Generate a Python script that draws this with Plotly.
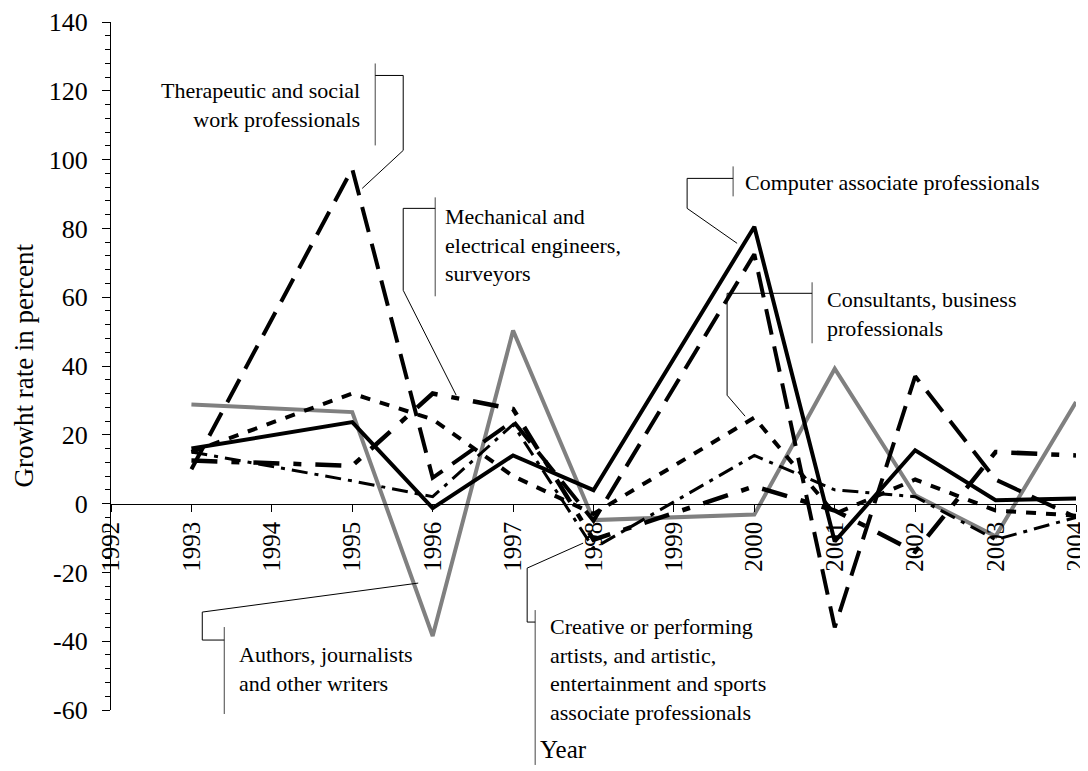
import plotly.graph_objects as go

# ---------------- data ----------------
years = [1993, 1995, 1996, 1997, 1998, 2000, 2001, 2002, 2003, 2004]
computer = [16.0, 23.7, -1.3, 14.0, 3.9, 80.5, -11.0, 15.5, 1.0, 1.5]
therapeutic = [10.0, 97.3, 7.5, 24.0, -5.0, 72.5, -36.0, 37.0, 7.0, -4.0]
mechanical = [12.5, 11.0, 32.0, 27.5, -10.5, 5.0, -2.0, -14.0, 15.0, 14.0]
consultants = [15.0, 32.0, 24.5, 8.0, -3.0, 25.0, -3.0, 7.0, -2.0, -3.5]
creative = [15.0, 6.6, 2.0, 23.0, -13.0, 14.0, 4.0, 2.0, -10.5, -4.0]
authors = [28.8, 26.6, -38.5, 50.3, -4.8, -3.2, 39.2, 2.4, -9.5, 29.5]

tick_years = list(range(1992, 2005))
y_ticks = [-60, -40, -20, 0, 20, 40, 60, 80, 100, 120, 140]

FONT = "Liberation Serif, Times New Roman, serif"

# ---------------- layout geometry ----------------
# the page body has an 8px margin, so the figure sits at (8, 8) in the window
OFF = 8
W, H = 1080, 763
PLOT_L, PLOT_R, PLOT_T, PLOT_B = 110.7, 1076.0, 21.5, 710.0   # window pixels
ML = PLOT_L - OFF
MR = W - (PLOT_R - OFF)
MT = PLOT_T - OFF
MB = H - (PLOT_B - OFF)
PW, PH = PLOT_R - PLOT_L, PLOT_B - PLOT_T


def px(x):
    return (x - PLOT_L) / PW


def py(y):
    return (PLOT_B - y) / PH


fig = go.Figure()

series = [
    ("Authors, journalists and other writers", authors, dict(color="#808080", width=4, dash="solid")),
    ("Creative or performing artists", creative, dict(color="black", width=3, dash="16px,7px,4px,7px")),
    ("Consultants, business professionals", consultants, dict(color="black", width=4, dash="10px,10px")),
    ("Mechanical and electrical engineers, surveyors", mechanical, dict(color="black", width=4.5, dash="26px,14px,8px,14px")),
    ("Therapeutic and social work professionals", therapeutic, dict(color="black", width=4, dash="26px,12px")),
    ("Computer associate professionals", computer, dict(color="black", width=4, dash="solid")),
]
for name, vals, line in series:
    fig.add_trace(go.Scatter(x=years, y=vals, mode="lines", name=name, line=line,
                             showlegend=False, hoverinfo="skip"))

# ---------------- callouts (window pixel layout -> paper) ----------------
callouts = [
    ("Therapeutic and social<br>work professionals", 362, 105, "right", "right",
     (375, 63, 145), [(375, 75), (403, 75), (403, 150), (362, 188)]),
    ("Mechanical and<br>electrical engineers,<br>surveyors", 443, 245, "left", "left",
     (435, 197, 296), [(435, 208), (403, 208), (403, 290), (456, 395)]),
    ("Computer associate professionals", 743, 182, "left", "left",
     (733, 166, 196), [(733, 178), (687, 178), (687, 208), (737, 243)]),
    ("Consultants, business<br>professionals", 825, 314, "left", "left",
     (812, 282, 343), [(812, 293), (727, 293), (727, 395), (745, 416)]),
    ("Authors, journalists<br>and other writers", 237, 669, "left", "left",
     (224, 627, 714), [(224, 640), (202, 640), (202, 612), (418, 583)]),
    ("Creative or performing<br>artists, and artistic,<br>entertainment and sports<br>associate professionals",
     548, 669, "left", "left",
     (535, 610, 765), [(535, 622), (527, 622), (527, 568), (583, 543)]),
]

shapes = []
annotations = []
for text, tx, ty, xa, al, bar, pts in callouts:
    annotations.append(dict(text=text, x=px(tx), y=py(ty), xref="paper", yref="paper",
                            xanchor=xa, yanchor="middle", align=al, showarrow=False,
                            font=dict(family=FONT, size=22, color="black")))
    bx, by0, by1 = bar
    shapes.append(dict(type="line", xref="paper", yref="paper",
                       x0=px(bx), x1=px(bx), y0=py(by0), y1=py(by1),
                       line=dict(color="#444444", width=1)))
    path = "M " + " L ".join(f"{px(a):.5f},{py(b):.5f}" for a, b in pts)
    shapes.append(dict(type="path", xref="paper", yref="paper", path=path,
                       line=dict(color="black", width=1)))

annotations.append(dict(text="Growht rate in percent", x=px(24), y=py(365), xref="paper", yref="paper",
                        textangle=-90, showarrow=False, xanchor="center", yanchor="middle",
                        font=dict(family=FONT, size=27, color="black")))
annotations.append(dict(text="Year", x=px(563), y=py(750), xref="paper", yref="paper",
                        showarrow=False, xanchor="center", yanchor="middle",
                        font=dict(family=FONT, size=25, color="black")))

fig.update_layout(
    width=W, height=H,
    margin=dict(l=ML, r=MR, t=MT, b=MB, pad=0),
    paper_bgcolor="white", plot_bgcolor="white",
    showlegend=False,
    shapes=shapes,
    annotations=annotations,
    xaxis=dict(range=[1992, 2004], anchor="free", position=60 / 200,
               tickmode="array", tickvals=tick_years, ticktext=[str(t) for t in tick_years],
               ticks="outside", ticklen=7, tickwidth=1, tickcolor="black", tickangle=-90,
               ticklabeloverflow="allow",
               showline=True, linecolor="black", linewidth=1.2,
               showgrid=False, zeroline=False, automargin=False,
               tickfont=dict(family=FONT, size=25, color="black")),
    yaxis=dict(range=[-60, 140], tickmode="array", tickvals=y_ticks,
               ticktext=[str(t) for t in y_ticks],
               ticks="outside", ticklen=8, tickwidth=1, tickcolor="black",
               ticklabelstandoff=9,
               minor=dict(tickmode="linear", tick0=0, dtick=4, ticks="outside", ticklen=5,
                          tickcolor="black", tickwidth=1, showgrid=False),
               showline=True, linecolor="black", linewidth=1.2,
               showgrid=False, zeroline=False, automargin=False,
               tickfont=dict(family=FONT, size=26, color="black")),
)

fig.write_html("out.html")
